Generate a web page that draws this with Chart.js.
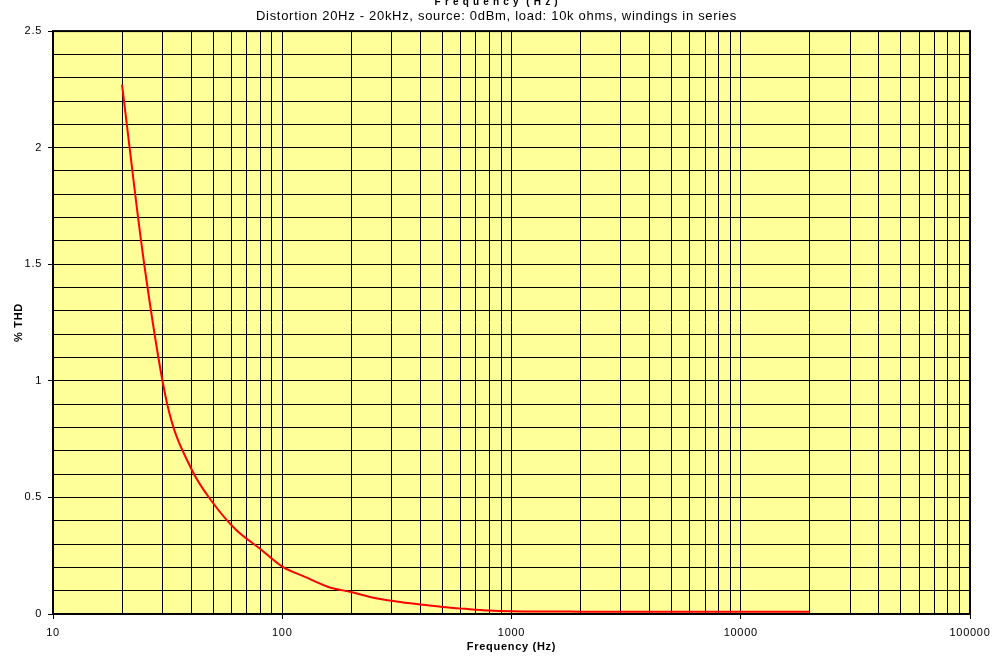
<!DOCTYPE html>
<html>
<head>
<meta charset="utf-8">
<script src="https://cdn.jsdelivr.net/npm/chart.js@4"></script>
<style>
  html, body { margin: 0; padding: 0; background: #fff; }
  #wrap { width: 993px; height: 658px; }
</style>
</head>
<body>
<div id="wrap"><canvas id="c"></canvas></div>
<script>
// 1/3-octave measurement points, Hz
const freqs = [20, 25, 31.5, 40, 50, 63, 80, 100, 125, 160, 200, 250, 315, 400, 500, 630, 800,
  1000, 1250, 1600, 2000, 2500, 3150, 4000, 5000, 6300, 8000, 10000, 12500, 16000, 20000];
// % THD
const thd = [2.27, 1.5, 0.9, 0.625, 0.475, 0.36, 0.28, 0.203, 0.16, 0.115, 0.094, 0.07, 0.054, 0.041, 0.03, 0.022, 0.015,
  0.012, 0.011, 0.011, 0.01, 0.01, 0.01, 0.01, 0.01, 0.01, 0.01, 0.01, 0.01, 0.01, 0.01];

const decades = [10, 100, 1000, 10000, 100000];
const yMajor = [0, 0.5, 1, 1.5, 2, 2.5];

const font = "'Liberation Sans', Arial, sans-serif";
Chart.defaults.font.family = font;
Chart.defaults.color = "#000";

const isDecade = (v) => decades.some((d) => Math.abs(v - d) < 1e-6 * d);
const isMajorY = (v) => yMajor.some((m) => Math.abs(v - m) < 1e-6);

// the original (Excel export) renders text slightly letter-spaced
const spacing = {
  id: "spacing",
  beforeUpdate(chart) {
    chart.ctx.letterSpacing = "0.7px";
  },
  beforeDraw(chart) {
    chart.ctx.letterSpacing = "0.7px";
  },
};

const plotBg = {
  id: "plotBg",
  beforeDraw(chart) {
    const { ctx, chartArea: a } = chart;
    ctx.save();
    ctx.fillStyle = "#ffff99";
    ctx.fillRect(a.left, a.top, a.right - a.left, a.bottom - a.top);
    ctx.restore();
  },
  afterDraw(chart) {
    const { ctx, chartArea: a } = chart;
    ctx.save();
    ctx.strokeStyle = "#000";
    ctx.lineWidth = 2;
    ctx.strokeRect(a.left, a.top, a.right - a.left, a.bottom - a.top);
    ctx.restore();
  },
};

new Chart(document.getElementById("c"), {
  type: "line",
  data: {
    datasets: [
      {
        data: freqs.map((f, i) => ({ x: f, y: thd[i] })),
        borderColor: "#ff0000",
        borderWidth: 2,
        pointRadius: 0,
        cubicInterpolationMode: "monotone",
        fill: false,
      },
    ],
  },
  options: {
    responsive: true,
    maintainAspectRatio: false,
    animation: false,
    layout: { padding: 0 },
    plugins: {
      legend: { display: false },
      tooltip: { enabled: false },
      title: {
        display: true,
        text: "F r e q u e n c y  ( H z )",
        font: { size: 10, weight: "bold" },
        padding: { top: -4, bottom: 0 },
      },
      subtitle: {
        display: true,
        text: "Distortion 20Hz - 20kHz, source: 0dBm, load: 10k ohms, windings in series",
        font: { size: 13 },
        padding: { top: 1, bottom: 6.5 },
      },
    },
    scales: {
      x: {
        type: "logarithmic",
        min: 10,
        max: 100000,
        afterBuildTicks: (scale) => {
          const t = [];
          for (let d = 10; d < 100000; d *= 10) {
            for (let k = 1; k < 10; k++) t.push({ value: d * k });
          }
          t.push({ value: 100000 });
          scale.ticks = t;
        },
        afterFit: (scale) => {
          scale.height = 44;
          scale.paddingRight = 23;
        },
        ticks: {
          autoSkip: false,
          maxRotation: 0,
          padding: 7,
          font: { size: 11 },
          callback: (v) => (isDecade(v) ? String(v) : ""),
        },
        grid: {
          color: "#000",
          lineWidth: 1,
          tickLength: 5,
          tickColor: (ctx) => (ctx.tick && isDecade(ctx.tick.value) ? "#000" : "rgba(0,0,0,0)"),
        },
        border: { display: false },
        title: {
          display: true,
          text: "Frequency (Hz)",
          font: { size: 11, weight: "bold" },
          padding: { top: 0, bottom: 4 },
        },
      },
      y: {
        min: 0,
        max: 2.5,
        afterBuildTicks: (scale) => {
          const t = [];
          for (let i = 0; i <= 25; i++) t.push({ value: i / 10 });
          scale.ticks = t;
        },
        afterFit: (scale) => {
          scale.width = 53;
        },
        ticks: {
          autoSkip: false,
          padding: 6,
          font: { size: 11 },
          callback: (v) => (isMajorY(v) ? String(Math.round(v * 10) / 10) : ""),
        },
        grid: {
          color: "#000",
          lineWidth: 1,
          tickLength: 5,
          tickColor: (ctx) => (ctx.tick && isMajorY(ctx.tick.value) ? "#000" : "rgba(0,0,0,0)"),
        },
        border: { display: false },
        title: {
          display: true,
          text: "% THD",
          font: { size: 11, weight: "bold" },
          padding: { top: 12, bottom: 0 },
        },
      },
    },
  },
  plugins: [spacing, plotBg],
});
</script>
</body>
</html>
